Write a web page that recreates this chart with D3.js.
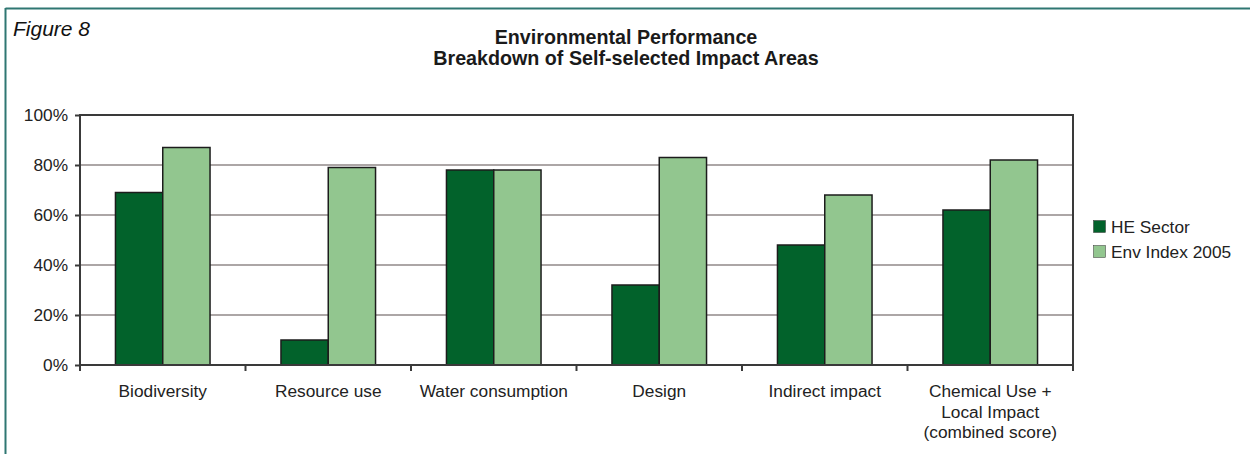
<!DOCTYPE html>
<html>
<head>
<meta charset="utf-8">
<script src="https://cdn.jsdelivr.net/npm/d3@7"></script>
<style>
  html, body { margin: 0; padding: 0; background: #fff; }
  svg { display: block; font-family: "Liberation Sans", Arial, sans-serif; }
</style>
</head>
<body>
<svg id="chart" width="1250" height="454"></svg>
<script>
const categories = [
  ["Biodiversity"],
  ["Resource use"],
  ["Water consumption"],
  ["Design"],
  ["Indirect impact"],
  ["Chemical Use +", "Local Impact", "(combined score)"]
];
const seriesNames = ["HE Sector", "Env Index 2005"];
const heSector = [69, 10, 78, 32, 48, 62];
const envIndex2005 = [87, 79, 78, 83, 68, 82];
const yTicks = [0, 20, 40, 60, 80, 100];
const titleLines = ["Environmental Performance", "Breakdown of Self-selected Impact Areas"];
const figureLabel = "Figure 8";

const colors = ["#02622b", "#92c68f"];
const series = [heSector, envIndex2005];
const labelSize = 17.3;

const svg = d3.select("#chart");

// frame
svg.append("line").attr("x1", 5.5).attr("x2", 1250).attr("y1", 8.5).attr("y2", 8.5)
  .attr("stroke", "#2f7772").attr("stroke-width", 2);
svg.append("line").attr("x1", 5.5).attr("x2", 5.5).attr("y1", 8).attr("y2", 454)
  .attr("stroke", "#2f7772").attr("stroke-width", 2);

svg.append("text").attr("x", 13).attr("y", 36)
  .attr("font-size", 21).attr("font-style", "italic").attr("fill", "#111")
  .text(figureLabel);

svg.selectAll("text.title").data(titleLines).enter().append("text")
  .attr("class", "title")
  .attr("x", 626).attr("y", (d, i) => 43.5 + i * 21.5)
  .attr("text-anchor", "middle").attr("font-size", 19.7).attr("font-weight", "bold")
  .attr("fill", "#1a1a1a")
  .text(d => d);

const pLeft = 80, pRight = 1073, pTop = 115, pBottom = 365;

const x = d3.scaleBand().domain(d3.range(categories.length)).range([pLeft, pRight]).paddingInner(0).paddingOuter(0);
const y = d3.scaleLinear().domain([0, 100]).range([pBottom, pTop]);
const groupFrac = 2 / 3.5;
const x1 = d3.scaleBand().domain([0, 1])
  .range([0, x.bandwidth() * groupFrac]);

// gridlines
const g = svg.append("g");
g.selectAll("line.grid").data(yTicks.filter(t => t > 0 && t < 100)).enter().append("line")
  .attr("x1", pLeft).attr("x2", pRight)
  .attr("y1", d => y(d)).attr("y2", d => y(d))
  .attr("stroke", "#aca6a6").attr("stroke-width", 2);

// bars
categories.forEach((c, i) => {
  const gx = x(i) + x.bandwidth() * (1 - groupFrac) / 2;
  series.forEach((s, j) => {
    g.append("rect")
      .attr("x", gx + x1(j))
      .attr("y", y(s[i]))
      .attr("width", x1.bandwidth())
      .attr("height", y(0) - y(s[i]))
      .attr("fill", colors[j])
      .attr("stroke", "#1c1c1c").attr("stroke-width", 1.5);
  });
});

// plot border
svg.append("rect").attr("x", pLeft).attr("y", pTop).attr("width", pRight - pLeft).attr("height", pBottom - pTop)
  .attr("fill", "none").attr("stroke", "#3a3a3a").attr("stroke-width", 2);

// y axis
const yAxis = d3.axisLeft(y).tickValues(yTicks).tickFormat(d => d + "%").tickSize(5).tickPadding(7);
const ya = svg.append("g").attr("transform", `translate(${pLeft},0)`).call(yAxis);
ya.select(".domain").remove();
ya.selectAll(".tick line").attr("stroke", "#3a3a3a").attr("stroke-width", 2);
ya.selectAll(".tick text").attr("font-size", labelSize).attr("fill", "#222")
  .attr("font-family", "Liberation Sans, Arial, sans-serif");

// x axis ticks at category boundaries
const bounds = d3.range(categories.length + 1).map(i => pLeft + i * x.bandwidth());
svg.selectAll("line.xt").data(bounds).enter().append("line")
  .attr("x1", d => d).attr("x2", d => d).attr("y1", pBottom).attr("y2", pBottom + 6)
  .attr("stroke", "#3a3a3a").attr("stroke-width", 2);

// x labels
const xl = svg.append("g");
categories.forEach((lines, i) => {
  const t = xl.append("text").attr("text-anchor", "middle")
    .attr("font-size", labelSize).attr("fill", "#222");
  lines.forEach((ln, k) => {
    t.append("tspan").attr("x", x(i) + x.bandwidth() / 2).attr("y", 397 + k * 20.5).text(ln);
  });
});

// legend
const lg = svg.append("g");
seriesNames.forEach((n, j) => {
  lg.append("rect").attr("x", 1093.5).attr("y", 220.5 + j * 25).attr("width", 12).attr("height", 12)
    .attr("fill", colors[j]).attr("stroke", "#333").attr("stroke-width", 0.5);
  lg.append("text").attr("x", 1111).attr("y", 233 + j * 25)
    .attr("font-size", labelSize).attr("fill", "#222").text(n);
});
</script>
</body>
</html>
